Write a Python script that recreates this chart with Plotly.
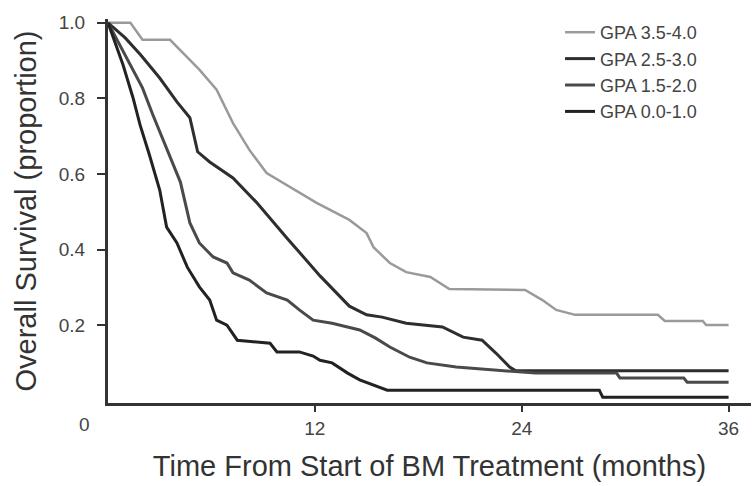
import plotly.graph_objects as go

# Kaplan-Meier curves (months, proportion surviving)
gpa_35_40_t = [0, 1.3, 2.0, 3.6, 5.3, 6.3, 7.25, 8.2, 9.2, 10.1, 12.1, 14.0, 15.0, 15.4,
               16.35, 17.3, 18.7, 19.8, 24.2, 25.2, 26.0, 27.1, 31.9, 32.3, 34.5, 34.7, 36]
gpa_35_40_s = [1.0, 1.0, 0.955, 0.955, 0.876, 0.823, 0.735, 0.664, 0.603, 0.579, 0.524,
               0.479, 0.444, 0.407, 0.365, 0.341, 0.328, 0.296, 0.294, 0.267, 0.241,
               0.228, 0.228, 0.212, 0.212, 0.201, 0.201]

gpa_25_30_t = [0, 1.0, 1.9, 3.0, 4.0, 4.75, 5.2, 5.9, 7.25, 8.6, 10.4, 12.3, 14.0, 15.0,
               15.9, 17.3, 19.4, 20.6, 21.7, 22.5, 23.3, 23.65, 36]
gpa_25_30_s = [1.0, 0.96, 0.915, 0.854, 0.791, 0.749, 0.659, 0.632, 0.59, 0.526, 0.43,
               0.331, 0.251, 0.228, 0.222, 0.206, 0.196, 0.169, 0.161, 0.127, 0.09,
               0.08, 0.08]

gpa_15_20_t = [0, 1.1, 2.0, 2.6, 3.4, 4.2, 4.75, 5.3, 6.1, 6.9, 7.25, 8.2, 9.2, 10.4,
               11.1, 11.9, 13.0, 14.6, 15.5, 16.35, 17.5, 18.5, 20.2, 24.8, 29.5, 29.7,
               33.4, 33.6, 36]
gpa_15_20_s = [1.0, 0.907, 0.828, 0.757, 0.669, 0.579, 0.471, 0.418, 0.381, 0.365, 0.339,
               0.32, 0.286, 0.267, 0.241, 0.214, 0.206, 0.188, 0.167, 0.143, 0.116,
               0.101, 0.09, 0.074, 0.074, 0.061, 0.061, 0.05, 0.05]

gpa_00_10_t = [0, 0.87, 1.45, 1.86, 2.4, 3.0, 3.4, 4.0, 4.6, 5.3, 5.9, 6.3, 6.9, 7.5,
               9.4, 9.8, 11.1, 11.9, 12.3, 13.0, 13.9, 14.6, 16.2, 28.5, 28.7, 36]
gpa_00_10_s = [1.0, 0.889, 0.802, 0.73, 0.651, 0.558, 0.46, 0.418, 0.354, 0.302, 0.267,
               0.214, 0.201, 0.161, 0.153, 0.13, 0.13, 0.119, 0.108, 0.101, 0.074, 0.056,
               0.029, 0.029, 0.01, 0.01]

series = [
    ("GPA 3.5-4.0", gpa_35_40_t, gpa_35_40_s, "#9a9a9a", 2.5),
    ("GPA 2.5-3.0", gpa_25_30_t, gpa_25_30_s, "#2e2e2e", 3),
    ("GPA 1.5-2.0", gpa_15_20_t, gpa_15_20_s, "#4a4a4a", 3),
    ("GPA 0.0-1.0", gpa_00_10_t, gpa_00_10_s, "#222222", 3),
]

x_ticks = [12, 24, 36]
y_ticks = [0.2, 0.4, 0.6, 0.8, 1.0]

font_main = "Liberation Sans, Arial, sans-serif"

fig = go.Figure()
for name, t, s, color, width in series:
    fig.add_trace(go.Scatter(
        x=t, y=s, name=name, mode="lines",
        line=dict(color=color, width=width),
    ))

fig.update_layout(
    width=752, height=486,
    margin=dict(l=108, r=1, t=19, b=83),
    plot_bgcolor="white",
    paper_bgcolor="white",
    font=dict(family=font_main, color="#333333"),
    showlegend=True,
    legend=dict(
        x=0.703, y=1.013, xanchor="left", yanchor="top",
        bgcolor="rgba(0,0,0,0)",
        font=dict(size=18, color="#444444"),
        itemwidth=30,
    ),
)

fig.update_xaxes(
    range=[0, 37.3],
    tickvals=x_ticks,
    ticktext=[str(v) for v in x_ticks],
    ticks="outside", ticklen=6, tickwidth=2, tickcolor="#333333",
    showline=True, linecolor="#333333", linewidth=3,
    showgrid=False, zeroline=False,
    tickfont=dict(size=19, color="#444444"),
    title=dict(text="Time From Start of BM Treatment (months)",
               font=dict(size=29, color="#333333"), standoff=18),
)

fig.update_yaxes(
    range=[-0.005, 1.01],
    tickvals=y_ticks,
    ticktext=["%.1f" % v for v in y_ticks],
    ticks="outside", ticklen=8, tickwidth=2, tickcolor="#333333",
    ticklabelstandoff=8,
    showline=True, linecolor="#333333", linewidth=3,
    showgrid=False, zeroline=False,
    tickfont=dict(size=19, color="#444444"),
    title=dict(text="Overall Survival (proportion)",
               font=dict(size=29, color="#333333"), standoff=14),
)

# the shared origin label sits at the lower-left corner
fig.add_annotation(
    text="0", xref="paper", yref="paper", x=-0.036, y=-0.057,
    xanchor="center", yanchor="middle", showarrow=False,
    font=dict(size=19, color="#444444", family=font_main),
)

# drop the page's default body margin so the figure fills the window
fig.write_html(
    "out.html",
    config={"displayModeBar": False},
    post_script="document.body.style.margin='0';",
)
